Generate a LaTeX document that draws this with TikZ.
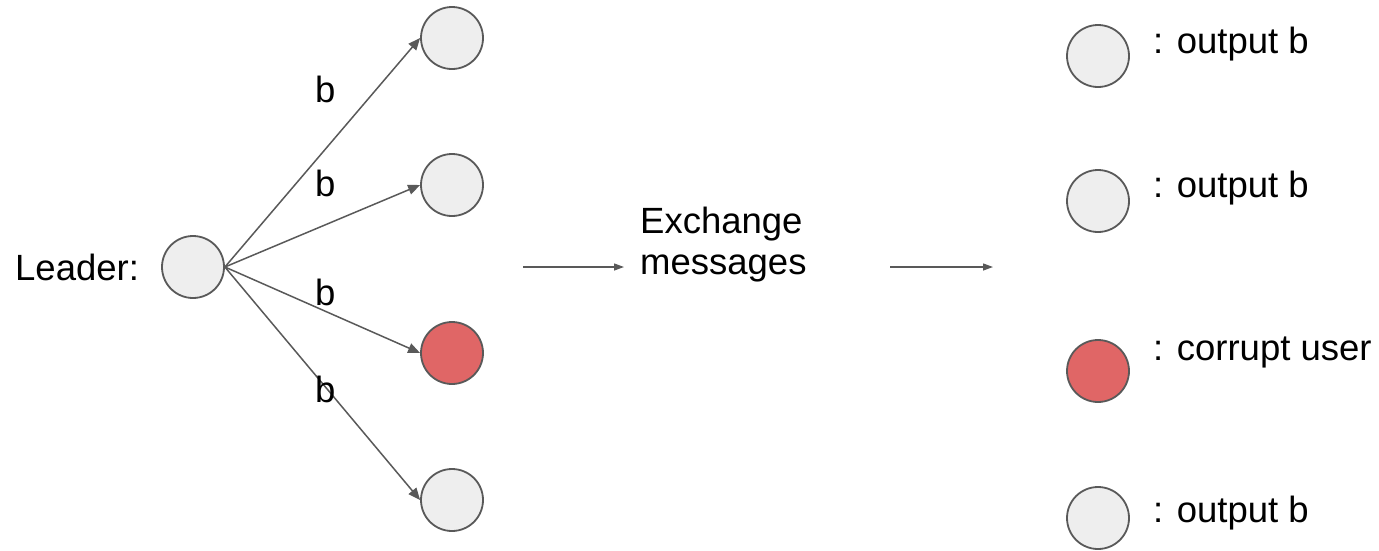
\documentclass[tikz,border=0pt]{standalone}
\usepackage{fontspec}
\setmainfont{Liberation Sans}
\usetikzlibrary{arrows.meta}
\definecolor{edgegray}{HTML}{595959}
\definecolor{nodefill}{HTML}{EEEEEE}
\definecolor{corruptfill}{HTML}{E06666}
\begin{document}
\begin{tikzpicture}[x=1pt, y=-1pt,
  user/.style={circle, draw=edgegray, line width=1.8pt, fill=nodefill,
    minimum size=62pt, inner sep=0pt},
  corrupt/.style={user, fill=corruptfill},
  lbl/.style={anchor=base west, inner sep=0pt, font=\fontsize{36.5}{41}\selectfont},
  send/.style={draw=edgegray, line width=1.5pt, -{Triangle[length=12pt, width=10pt]}},
  flow/.style={draw=edgegray, line width=1.3pt, -{Triangle[length=10pt, width=7pt]}}]
\useasboundingbox (0,0) rectangle (1379,550);

% leader and the four receivers
\node[user] (leader) at (193,267) {};
\node[lbl] (leadertxt) at (15,280) {Leader:};
\node[user] (r1) at (452,38) {};
\node[user] (r2) at (452,185) {};
\node[corrupt] (r3) at (452,353) {};
\node[user] (r4) at (452,500) {};

\draw[send] (leader.east) -- (r1.west);
\draw[send] (leader.east) -- (r2.west);
\draw[send] (leader.east) -- (r3.west);
\draw[send] (leader.east) -- (r4.west);

\node[lbl] (b1) at (315,102) {b};
\node[lbl] (b2) at (315,196) {b};
\node[lbl] (b3) at (315,305) {b};
\node[lbl] (b4) at (315,402) {b};

% exchange phase
\coordinate (a1s) at (523,267);
\coordinate (a1e) at (624,267);
\coordinate (a2s) at (890,267);
\coordinate (a2e) at (993,267);
\draw[flow] (a1s) -- (a1e);
\node[lbl, align=left] (exch) at (640,274) {Exchange\\messages};
\draw[flow] (a2s) -- (a2e);

% outcome
\node[user] (o1) at (1098,56) {};
\node[user] (o2) at (1098,201) {};
\node[corrupt] (o3) at (1098,371) {};
\node[user] (o4) at (1098,518) {};
\node[lbl] (t1) at (1153,53) {: output b};
\node[lbl] (t2) at (1153,197) {: output b};
\node[lbl] (t3) at (1153,360) {: corrupt user};
\node[lbl] (t4) at (1153,522) {: output b};
\end{tikzpicture}
\end{document}
